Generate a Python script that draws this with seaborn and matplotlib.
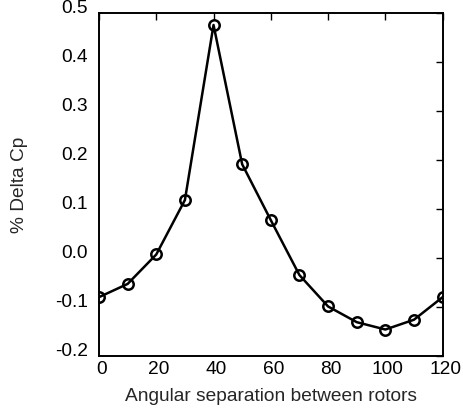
import matplotlib
matplotlib.use("Agg")
import matplotlib.pyplot as plt
import matplotlib.transforms as mtransforms
import seaborn as sns
import pandas as pd

angles = [0, 10, 20, 30, 40, 50, 60, 70, 80, 90, 100, 110, 120]
delta_cp = [-0.080, -0.053, 0.007, 0.118, 0.475, 0.191, 0.077, -0.035,
            -0.099, -0.131, -0.146, -0.126, -0.080]
x_ticks = [0, 20, 40, 60, 80, 100, 120]
y_ticks = [-0.2, -0.1, 0.0, 0.1, 0.2, 0.3, 0.4, 0.5]
y_tick_labels = ["-0.2", "-0.1", "0.0", "0.1", "0.2", "0.3", "0.4", "0.5"]

sns.set_style("white")
plt.rcParams['font.family'] = ['Liberation Sans', 'DejaVu Sans']

df = pd.DataFrame({"angle": angles, "dcp": delta_cp})

fig = plt.figure(figsize=(4.63, 4.17), dpi=100)
ax = fig.add_axes([0.2138, 0.1463, 0.956 - 0.2138, 0.9695 - 0.1463])
sns.lineplot(data=df, x="angle", y="dcp", ax=ax, color="black", linewidth=1.8,
             marker="o", markersize=7.5, markerfacecolor="none",
             markeredgecolor="black", markeredgewidth=1.8)

fs = 13.8
ax.set_xlim(0, 120)
ax.set_ylim(-0.2, 0.5)
ax.set_xticks(x_ticks)
ax.set_yticks(y_ticks)
ax.set_yticklabels(y_tick_labels)
ax.tick_params(direction="in", length=5, width=1.0, top=True, right=True,
               labelsize=fs, colors="black")
ax.tick_params(axis="y", pad=8)
ax.tick_params(axis="x", pad=3.5)
ax.set_xlabel("Angular separation between rotors", fontsize=fs, labelpad=7)
ax.set_ylabel("% Delta Cp", fontsize=fs, labelpad=19)
for s in ax.spines.values():
    s.set_visible(True)
    s.set_color("black")
    s.set_linewidth(1.4)

# tick labels in the reference sit slightly above / right of their ticks
off = mtransforms.ScaledTranslation(0, 6 / 100, fig.dpi_scale_trans)
for lab in ax.get_yticklabels():
    lab.set_transform(lab.get_transform() + off)
offx = mtransforms.ScaledTranslation(2.5 / 100, 0, fig.dpi_scale_trans)
for lab in ax.get_xticklabels():
    lab.set_transform(lab.get_transform() + offx)

fig.savefig("out.png", dpi=100)
